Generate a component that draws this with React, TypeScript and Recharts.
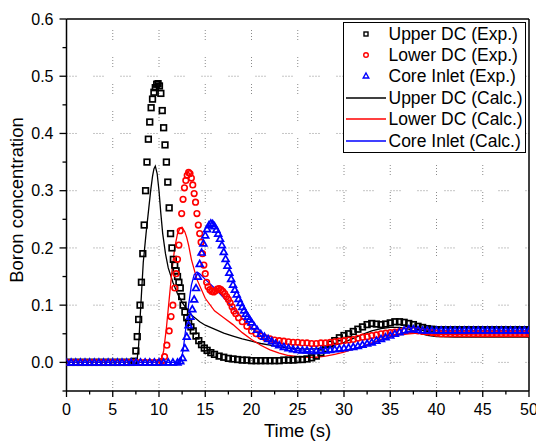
import React from 'react';
import { ComposedChart, Line, XAxis, YAxis, ReferenceLine } from 'recharts';

// x ticks (major every 5 s, minor every 2.5 s)
const xTicks = [0, 2.5, 5, 7.5, 10, 12.5, 15, 17.5, 20, 22.5, 25, 27.5, 30, 32.5, 35, 37.5, 40, 42.5, 45, 47.5, 50];
const xMajor = [0, 5, 10, 15, 20, 25, 30, 35, 40, 45, 50];
const yTicks = [-0.05, 0, 0.05, 0.1, 0.15, 0.2, 0.25, 0.3, 0.35, 0.4, 0.45, 0.5, 0.55, 0.6];
const yMajor = [0, 0.1, 0.2, 0.3, 0.4, 0.5, 0.6];

// [time (s), boron concentration]
const upperDcExp: [number, number][] = [
  [0, 0], [0.5, 0], [1, 0], [1.5, 0], [2, 0], [2.5, 0], [3, 0], [3.5, 0], [4, 0], [4.5, 0], [5, 0], [5.5, 0],
  [6, 0], [6.5, 0], [7, 0], [7.3, 0.002], [7.5, 0.02], [7.65, 0.045], [7.8, 0.075], [7.95, 0.1], [8.1, 0.14],
  [8.25, 0.19], [8.4, 0.24], [8.55, 0.3], [8.7, 0.35], [8.85, 0.39], [9.0, 0.42], [9.15, 0.445], [9.3, 0.46],
  [9.45, 0.472], [9.6, 0.48], [9.75, 0.486], [9.9, 0.487], [10.05, 0.483], [10.2, 0.47], [10.35, 0.44],
  [10.5, 0.41], [10.65, 0.38], [10.8, 0.35], [10.95, 0.315], [11.1, 0.27], [11.25, 0.225], [11.4, 0.2],
  [11.55, 0.18], [11.7, 0.17], [11.85, 0.16], [12.0, 0.15], [12.15, 0.14], [12.3, 0.13], [12.45, 0.115],
  [12.6, 0.1], [12.8, 0.088], [13.0, 0.078], [13.2, 0.07], [13.45, 0.062], [13.7, 0.055], [14.0, 0.046],
  [14.3, 0.038], [14.6, 0.031], [14.9, 0.025], [15.2, 0.021], [15.6, 0.017], [16.0, 0.014], [16.5, 0.011],
  [17, 0.009], [17.5, 0.007], [18, 0.006], [18.5, 0.005], [19, 0.004], [19.5, 0.004], [20, 0.003],
  [20.5, 0.003], [21, 0.003], [21.5, 0.003], [22, 0.003], [22.5, 0.003], [23, 0.003], [23.5, 0.004],
  [24, 0.004], [24.5, 0.004], [25, 0.005], [25.5, 0.005], [26, 0.006], [26.5, 0.008], [27, 0.011],
  [27.5, 0.017], [28, 0.024], [28.5, 0.032], [29, 0.038], [29.5, 0.043], [30, 0.047], [30.5, 0.05],
  [31, 0.054], [31.5, 0.058], [32, 0.062], [32.5, 0.066], [33, 0.068], [33.5, 0.067], [34, 0.066],
  [34.5, 0.067], [35, 0.069], [35.5, 0.071], [36, 0.071], [36.5, 0.07], [37, 0.068], [37.5, 0.066],
  [38, 0.063], [38.5, 0.061], [39, 0.059], [39.5, 0.058], [40, 0.057], [40.5, 0.057], [41, 0.057],
  [41.5, 0.057], [42, 0.057], [42.5, 0.057], [43, 0.057], [43.5, 0.057], [44, 0.057], [44.5, 0.057],
  [45, 0.057], [45.5, 0.057], [46, 0.057], [46.5, 0.057], [47, 0.057], [47.5, 0.057], [48, 0.057],
  [48.5, 0.057], [49, 0.057], [49.5, 0.057], [50, 0.057],
];

const lowerDcExp: [number, number][] = [
  [0, 0], [0.5, 0], [1, 0], [1.5, 0], [2, 0], [2.5, 0], [3, 0], [3.5, 0], [4, 0], [4.5, 0], [5, 0], [5.5, 0],
  [6, 0], [6.5, 0], [7, 0], [7.5, 0], [8, 0], [8.5, 0], [9, 0], [9.5, 0], [10, 0], [10.3, 0.002],
  [10.6, 0.01], [10.85, 0.03], [11.1, 0.055], [11.3, 0.08], [11.5, 0.1], [11.7, 0.13], [11.85, 0.155],
  [12.0, 0.18], [12.15, 0.205], [12.3, 0.23], [12.45, 0.26], [12.6, 0.285], [12.75, 0.305], [12.9, 0.318],
  [13.05, 0.327], [13.2, 0.332], [13.35, 0.33], [13.5, 0.322], [13.65, 0.31], [13.8, 0.295], [13.95, 0.28],
  [14.1, 0.26], [14.25, 0.24], [14.4, 0.225], [14.55, 0.21], [14.7, 0.19], [14.85, 0.17], [15.0, 0.155],
  [15.15, 0.14], [15.3, 0.132], [15.5, 0.127], [15.7, 0.124], [15.9, 0.123], [16.1, 0.125], [16.3, 0.128],
  [16.5, 0.129], [16.7, 0.127], [16.9, 0.124], [17.1, 0.12], [17.3, 0.115], [17.5, 0.11], [17.7, 0.104],
  [17.9, 0.097], [18.1, 0.09], [18.3, 0.085], [18.6, 0.078], [19.0, 0.071], [19.5, 0.063], [20, 0.055],
  [20.5, 0.05], [21, 0.046], [21.5, 0.043], [22, 0.041], [22.5, 0.039], [23, 0.038], [23.5, 0.037],
  [24, 0.036], [24.5, 0.035], [25, 0.035], [25.5, 0.034], [26, 0.034], [26.5, 0.033], [27, 0.033],
  [27.5, 0.034], [28, 0.034], [28.5, 0.035], [29, 0.036], [29.5, 0.037], [30, 0.038], [30.5, 0.039],
  [31, 0.04], [31.5, 0.042], [32, 0.044], [32.5, 0.045], [33, 0.047], [33.5, 0.048], [34, 0.05],
  [34.5, 0.051], [35, 0.052], [35.5, 0.053], [36, 0.054], [36.5, 0.055], [37, 0.056], [37.5, 0.056],
  [38, 0.055], [38.5, 0.054], [39, 0.053], [39.5, 0.052], [40, 0.051], [40.5, 0.05], [41, 0.05],
  [41.5, 0.05], [42, 0.05], [42.5, 0.05], [43, 0.05], [43.5, 0.05], [44, 0.05], [44.5, 0.05], [45, 0.05],
  [45.5, 0.05], [46, 0.05], [46.5, 0.05], [47, 0.05], [47.5, 0.05], [48, 0.05], [48.5, 0.05], [49, 0.05],
  [49.5, 0.05], [50, 0.05],
];

const coreInletExp: [number, number][] = [
  [0, 0], [0.5, 0], [1, 0], [1.5, 0], [2, 0], [2.5, 0], [3, 0], [3.5, 0], [4, 0], [4.5, 0], [5, 0], [5.5, 0],
  [6, 0], [6.5, 0], [7, 0], [7.5, 0], [8, 0], [8.5, 0], [9, 0], [9.5, 0], [10, 0], [10.5, 0], [11, 0],
  [11.5, 0], [12, 0], [12.3, 0.002], [12.55, 0.008], [12.8, 0.025], [13.0, 0.045], [13.2, 0.065],
  [13.4, 0.08], [13.6, 0.093], [13.8, 0.11], [14.0, 0.13], [14.2, 0.15], [14.4, 0.172], [14.6, 0.192],
  [14.8, 0.208], [15.0, 0.222], [15.2, 0.233], [15.4, 0.24], [15.6, 0.243], [15.8, 0.242], [16.0, 0.238],
  [16.2, 0.232], [16.4, 0.225], [16.6, 0.216], [16.8, 0.205], [17.0, 0.193], [17.2, 0.181], [17.4, 0.169],
  [17.6, 0.157], [17.8, 0.146], [18.0, 0.136], [18.2, 0.127], [18.4, 0.119], [18.6, 0.111], [18.8, 0.104],
  [19.0, 0.097], [19.2, 0.091], [19.4, 0.085], [19.6, 0.08], [19.8, 0.075], [20.0, 0.07], [20.3, 0.063],
  [20.6, 0.057], [21.0, 0.05], [21.4, 0.045], [21.8, 0.041], [22.2, 0.037], [22.6, 0.033], [23.0, 0.03],
  [23.5, 0.027], [24, 0.025], [24.5, 0.023], [25, 0.022], [25.5, 0.021], [26, 0.021], [26.5, 0.02],
  [27, 0.02], [27.5, 0.021], [28, 0.021], [28.5, 0.022], [29, 0.023], [29.5, 0.024], [30, 0.025],
  [30.5, 0.026], [31, 0.027], [31.5, 0.029], [32, 0.031], [32.5, 0.033], [33, 0.035], [33.5, 0.038],
  [34, 0.041], [34.5, 0.044], [35, 0.047], [35.5, 0.05], [36, 0.053], [36.5, 0.056], [37, 0.058],
  [37.5, 0.058], [38, 0.057], [38.5, 0.056], [39, 0.056], [39.5, 0.056], [40, 0.056], [40.5, 0.056],
  [41, 0.056], [41.5, 0.056], [42, 0.056], [42.5, 0.056], [43, 0.056], [43.5, 0.056], [44, 0.056],
  [44.5, 0.056], [45, 0.056], [45.5, 0.056], [46, 0.056], [46.5, 0.056], [47, 0.056], [47.5, 0.056],
  [48, 0.056], [48.5, 0.056], [49, 0.056], [49.5, 0.056], [50, 0.056],
];

const upperDcCalc: [number, number][] = [
  [0, 0], [7.6, 0], [7.8, 0.03], [8.0, 0.09], [8.3, 0.175], [8.6, 0.225], [8.9, 0.27], [9.1, 0.3],
  [9.3, 0.325], [9.45, 0.338], [9.6, 0.343], [9.8, 0.33], [10.0, 0.3], [10.2, 0.26], [10.4, 0.225],
  [10.7, 0.19], [11.0, 0.165], [11.5, 0.14], [12.0, 0.12], [12.5, 0.105], [13.0, 0.093], [13.5, 0.083],
  [14.4, 0.071], [15, 0.065], [16, 0.058], [17, 0.051], [18, 0.046], [19, 0.041], [20, 0.037], [21, 0.033],
  [22, 0.03], [23, 0.027], [24, 0.025], [25, 0.024], [26, 0.023], [27, 0.024], [28, 0.026], [29, 0.03],
  [30, 0.035], [31, 0.042], [32, 0.049], [33, 0.055], [34, 0.059], [35, 0.061], [36, 0.061], [37, 0.058],
  [38, 0.052], [39, 0.047], [40, 0.045], [42, 0.044], [45, 0.044], [48, 0.044], [50, 0.044],
];

const lowerDcCalc: [number, number][] = [
  [0, 0], [10.2, 0], [10.5, 0.02], [10.8, 0.06], [11.1, 0.11], [11.4, 0.16], [11.7, 0.2], [12.0, 0.225],
  [12.3, 0.235], [12.5, 0.236], [12.8, 0.228], [13.0, 0.218], [13.2, 0.205], [13.5, 0.18], [14.1, 0.145],
  [15.0, 0.112], [16, 0.09], [17, 0.078], [18, 0.066], [19, 0.052], [20, 0.04], [21, 0.03], [22, 0.022],
  [23, 0.016], [24, 0.012], [25, 0.01], [26, 0.009], [27, 0.009], [28, 0.011], [29, 0.014], [30, 0.018],
  [31, 0.023], [32, 0.028], [33, 0.034], [34, 0.04], [35, 0.044], [36, 0.048], [37, 0.05], [38, 0.051],
  [39, 0.05], [40, 0.049], [45, 0.048], [50, 0.048],
];

const coreInletCalc: [number, number][] = [
  [0, 0], [12.3, 0], [12.6, 0.02], [12.9, 0.06], [13.2, 0.1], [13.5, 0.135], [13.8, 0.153], [14.1, 0.158],
  [14.4, 0.155], [15, 0.145], [16, 0.13], [17, 0.113], [18, 0.095], [19, 0.077], [20, 0.06], [21, 0.047],
  [22, 0.037], [23, 0.03], [24, 0.025], [25, 0.021], [26, 0.019], [27, 0.018], [28, 0.018], [29, 0.019],
  [30, 0.021], [31, 0.024], [32, 0.028], [33, 0.033], [34, 0.039], [35, 0.045], [36, 0.05], [37, 0.054],
  [38, 0.056], [40, 0.056], [45, 0.056], [50, 0.056],
];

const toRows = (pts: [number, number][]) => pts.map(([t, c]) => ({ t, c }));

const FONT = '"Liberation Sans", Arial, sans-serif';
const GRID_DASH = '1 2 1 2 1 2 1 17';

const squareDot = (p: any) => (
  <rect key={`sq-${p.index}`} x={p.cx - 2.8} y={p.cy - 2.8} width={5.6} height={5.6}
    fill="none" stroke="#000" strokeWidth={1.7} />
);
const circleDot = (p: any) => (
  <circle key={`ci-${p.index}`} cx={p.cx} cy={p.cy} r={2.8} fill="none" stroke="#ff0000" strokeWidth={1.6} />
);
const triangleDot = (p: any) => (
  <path key={`tr-${p.index}`} d={`M${p.cx},${p.cy - 3.4}L${p.cx + 3.4},${p.cy + 2.5}L${p.cx - 3.4},${p.cy + 2.5}Z`}
    fill="none" stroke="#0000ff" strokeWidth={1.7} />
);

const XTick = (p: any) => {
  const v = p.payload.value;
  const major = xMajor.includes(v);
  const axisY = p.y - 12;
  return (
    <g>
      <line x1={p.x} x2={p.x} y1={axisY} y2={axisY + (major ? 6 : 3.5)} stroke="#000" strokeWidth={1.3} />
      {major && (
        <text x={p.x} y={p.y} dy="0.72em" textAnchor="middle" fontSize={16} fontFamily={FONT} fill="#000">{v}</text>
      )}
    </g>
  );
};

const YTick = (p: any) => {
  const v = p.payload.value;
  const major = yMajor.includes(v);
  const axisX = p.x + 13;
  return (
    <g>
      <line x1={axisX - (major ? 7 : 4)} x2={axisX} y1={p.y} y2={p.y} stroke="#000" strokeWidth={1.3} />
      {major && (
        <text x={p.x} y={p.y} dy="0.36em" textAnchor="end" fontSize={16} fontFamily={FONT} fill="#000">{v.toFixed(1)}</text>
      )}
    </g>
  );
};

const legendRows = [
  { label: 'Upper DC (Exp.)', kind: 'square', color: '#000' },
  { label: 'Lower DC (Exp.)', kind: 'circle', color: '#ff0000' },
  { label: 'Core Inlet (Exp.)', kind: 'triangle', color: '#0000ff' },
  { label: 'Upper DC (Calc.)', kind: 'line', color: '#000' },
  { label: 'Lower DC (Calc.)', kind: 'line', color: '#ff0000' },
  { label: 'Core Inlet (Calc.)', kind: 'line', color: '#0000ff' },
];

function LegendSymbol({ kind, color }: { kind: string; color: string }) {
  return (
    <svg width={44} height={12} style={{ position: 'absolute', left: 0, top: -6 }}>
      {kind === 'square' && <rect x={20} y={4} width={4} height={4} fill="none" stroke={color} strokeWidth={1.4} />}
      {kind === 'circle' && <circle cx={22} cy={6} r={2.3} fill="none" stroke={color} strokeWidth={1.4} />}
      {kind === 'triangle' && <path d="M22,3L24.8,8L19.2,8Z" fill="none" stroke={color} strokeWidth={1.4} />}
      {kind === 'line' && <line x1={2} x2={42} y1={6} y2={6} stroke={color} strokeWidth={1.5} />}
    </svg>
  );
}

export default function App() {
  return (
    <div style={{ position: 'absolute', left: 0, top: 0, width: 536, height: 444, background: '#fff' }}>
      <ComposedChart width={536} height={444} margin={{ top: 19, right: 7, bottom: 23, left: 16.5 }}>
        <XAxis type="number" dataKey="t" domain={[0, 50]} ticks={xTicks} interval={0} allowDataOverflow
          height={30} tickSize={6} tickMargin={6} tickLine={false} tick={<XTick />}
          axisLine={{ stroke: '#000', strokeWidth: 1.5 }} />
        <YAxis type="number" domain={[-0.05, 0.6]} ticks={yTicks} interval={0} allowDataOverflow
          width={50} tickSize={7} tickMargin={6} tickLine={false} tick={<YTick />}
          axisLine={{ stroke: '#000', strokeWidth: 1.5 }} />
        {xMajor.slice(1, -1).map((v) => (
          <ReferenceLine key={`gx-${v}`} x={v} stroke="#8a8a8a" strokeWidth={1} strokeDasharray={GRID_DASH} />
        ))}
        {yMajor.slice(0, -1).map((v) => (
          <ReferenceLine key={`gy-${v}`} y={v} stroke="#8a8a8a" strokeWidth={1} strokeDasharray={GRID_DASH} />
        ))}
        <ReferenceLine y={0.6} stroke="#000" strokeWidth={1.5} />
        <ReferenceLine x={50} stroke="#000" strokeWidth={1.5} />
        <Line data={toRows(upperDcCalc)} dataKey="c" stroke="#000" strokeWidth={1.3} dot={false} activeDot={false} isAnimationActive={false} />
        <Line data={toRows(lowerDcCalc)} dataKey="c" stroke="#ff0000" strokeWidth={1.3} dot={false} activeDot={false} isAnimationActive={false} />
        <Line data={toRows(coreInletCalc)} dataKey="c" stroke="#0000ff" strokeWidth={1.3} dot={false} activeDot={false} isAnimationActive={false} />
        <Line data={toRows(upperDcExp)} dataKey="c" stroke="none" dot={squareDot} activeDot={false} isAnimationActive={false} />
        <Line data={toRows(lowerDcExp)} dataKey="c" stroke="none" dot={circleDot} activeDot={false} isAnimationActive={false} />
        <Line data={toRows(coreInletExp)} dataKey="c" stroke="none" dot={triangleDot} activeDot={false} isAnimationActive={false} />
      </ComposedChart>

      <div style={{
        position: 'absolute', left: 342.5, top: 21.5, width: 183, height: 131, boxSizing: 'border-box',
        border: '1.3px solid #000', background: '#fff', fontFamily: FONT, fontSize: 17.5, color: '#000',
      }}>
        {legendRows.map((r, i) => (
          <div key={r.label} style={{ position: 'absolute', left: 0, top: 11 + i * 21.4, width: '100%' }}>
            <LegendSymbol kind={r.kind} color={r.color} />
            <span style={{ position: 'absolute', left: 45, top: -11, whiteSpace: 'nowrap', lineHeight: '22px' }}>{r.label}</span>
          </div>
        ))}
      </div>

      <div style={{
        position: 'absolute', left: 17, top: 200, transform: 'translate(-50%, -50%) rotate(-90deg)',
        fontFamily: FONT, fontSize: 18.5, whiteSpace: 'nowrap', color: '#000',
      }}>Boron concentration</div>
      <div style={{
        position: 'absolute', left: 297.5, top: 431, transform: 'translate(-50%, -50%)',
        fontFamily: FONT, fontSize: 18.5, whiteSpace: 'nowrap', color: '#000',
      }}>Time (s)</div>
    </div>
  );
}
